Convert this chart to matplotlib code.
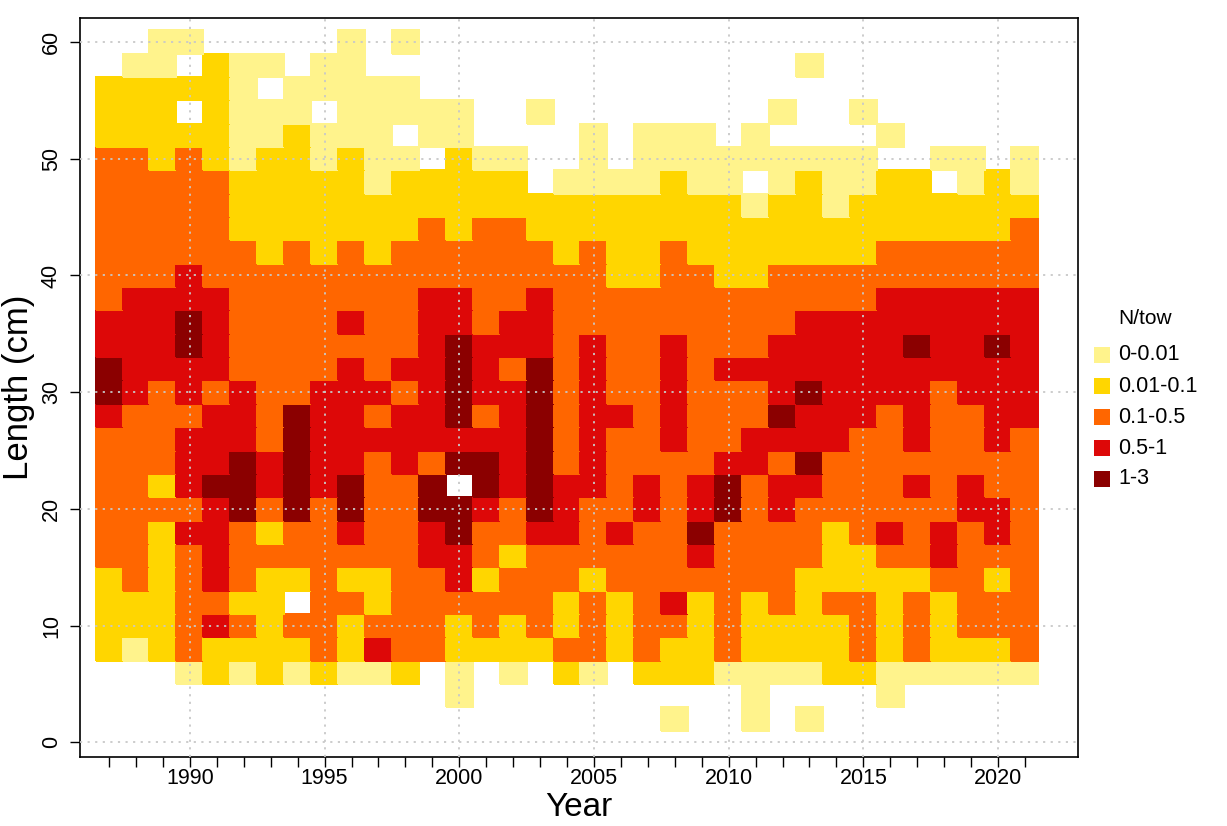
import numpy as np
import matplotlib
matplotlib.use("Agg")
import matplotlib.pyplot as plt
from matplotlib.colors import ListedColormap, BoundaryNorm
from matplotlib.patches import Rectangle

plt.rcParams['font.family'] = ['Liberation Sans', 'DejaVu Sans']

# ---------------- data ----------------
years = list(range(1987, 2022))
# length-bin centres (cm), listed top (60) to bottom (2)
length_bins = list(range(60, 0, -2))
class_labels = ["0-0.01", "0.01-0.1", "0.1-0.5", "0.5-1", "1-3"]
class_colors = ["#FFF38C", "#FFD600", "#FF6600", "#DD0808", "#8B0000"]

# N/tow class per length bin (60 cm -> 2 cm); 0 = no catch,
# 1 = 0-0.01, 2 = 0.01-0.1, 3 = 0.1-0.5, 4 = 0.5-1, 5 = 1-3
class_by_year = {
    1987: "002223333333445543333332222000",
    1988: "012223333334444433333333221000",
    1989: "112222333334444333323222222000",
    1990: "102023333344554434443433333100",
    1991: "022222333334444344454444342200",
    1992: "011111222333333444555333232100",
    1993: "010112222233333333443232222200",
    1994: "001122222333333355555332032100",
    1995: "011011222233333444443333333200",
    1996: "111112222333434444455432322100",
    1997: "001111122233333434333332234100",
    1998: "101101222333334344433333333200",
    1999: "000110223334444444355443333000",
    2000: "000112222334455554505544322110",
    2001: "000001223333344434554332332000",
    2002: "000001223333443444443323322100",
    2003: "000100022334445555555433332000",
    2004: "000000122233333333344433223200",
    2005: "000011122333344444443332333100",
    2006: "000000122223333343333433222000",
    2007: "000011122223333333344333333200",
    2008: "000011222333344444333333432201",
    2009: "000011122233333333344543222200",
    2010: "000001122223334333455333333100",
    2011: "000011012223334334433333222111",
    2012: "000101122233344454344333322100",
    2013: "010001222233444544543332222101",
    2014: "000001112233444444333222322200",
    2015: "000101122233444443333322333200",
    2016: "000010222334444433333432222110",
    2017: "000000222334454444343332333100",
    2018: "000001022334444333333443222100",
    2019: "000001122334444433344333332100",
    2020: "000000222334454444334432332100",
    2021: "000001123334444443333333333100",
}

# ---------------- build grid ----------------
Z = np.full((len(length_bins), len(years)), np.nan)
for j, yr in enumerate(years):
    s = class_by_year[yr]
    for i, ch in enumerate(s):
        c = int(ch)
        if c > 0:
            Z[i, j] = c

x_edges = np.array(years + [years[-1] + 1]) - 0.5
y_centres = np.array(length_bins, dtype=float)
order = np.argsort(y_centres)
y_sorted = y_centres[order]
Z_sorted = Z[order, :]
y_edges = np.concatenate([y_sorted - 1, [y_sorted[-1] + 1]])

cmap = ListedColormap(class_colors)
norm = BoundaryNorm([0.5, 1.5, 2.5, 3.5, 4.5, 5.5], cmap.N)

W, H = 1227, 826
fig = plt.figure(figsize=(W / 100, H / 100), dpi=100)
L, R, T, B = 80, 1078, 18, 757
ax = fig.add_axes([L / W, 1 - B / H, (R - L) / W, (B - T) / H])

ax.pcolormesh(x_edges, y_edges, Z_sorted, cmap=cmap, norm=norm,
              edgecolors='face', linewidth=0.3, zorder=1)

ax.set_xlim(1985.92, 2022.97)
ax.set_ylim(-1.26, 62.06)

# grid (dotted, on top of cells)
for gx in range(1990, 2021, 5):
    ax.axvline(gx, color='#C8C8C8', linestyle=(0, (1.2, 3)), linewidth=1.3, zorder=3)
for gy in range(0, 61, 10):
    ax.axhline(gy, color='#C8C8C8', linestyle=(0, (1.2, 3)), linewidth=1.3, zorder=3)

ax.set_xticks(years, minor=True)
ax.set_xticks(list(range(1990, 2021, 5)))
ax.set_yticks(list(range(0, 61, 10)))
ax.tick_params(axis='both', which='both', direction='out', length=7, width=1,
               labelsize=15.5, color='black')
ax.tick_params(axis='x', pad=1)
ax.tick_params(axis='y', pad=6)
for lbl in ax.get_yticklabels():
    lbl.set_rotation(90)
    lbl.set_va('center')

for sp in ax.spines.values():
    sp.set_linewidth(1.2)
    sp.set_color('black')

ax.set_xlabel("Year", fontsize=24, labelpad=2)
ax.set_ylabel("Length (cm)", fontsize=25, labelpad=4)

# ---------------- legend (drawn in figure pixels) ----------------
def fx(px):
    return px / W

def fy(py):
    return 1 - py / H

fig.text(fx(1118), fy(318), "N/tow", fontsize=15, ha='left', va='center')
for k, (lab, col) in enumerate(zip(class_labels, class_colors)):
    yc = 355 + 31 * k
    fig.patches.append(Rectangle((fx(1094), fy(yc + 8)), 16 / W, 16 / H,
                                 transform=fig.transFigure, facecolor=col,
                                 edgecolor='none'))
    fig.text(fx(1118), fy(yc), lab, fontsize=15.5, ha='left', va='center')

fig.savefig("out.png", dpi=100)
